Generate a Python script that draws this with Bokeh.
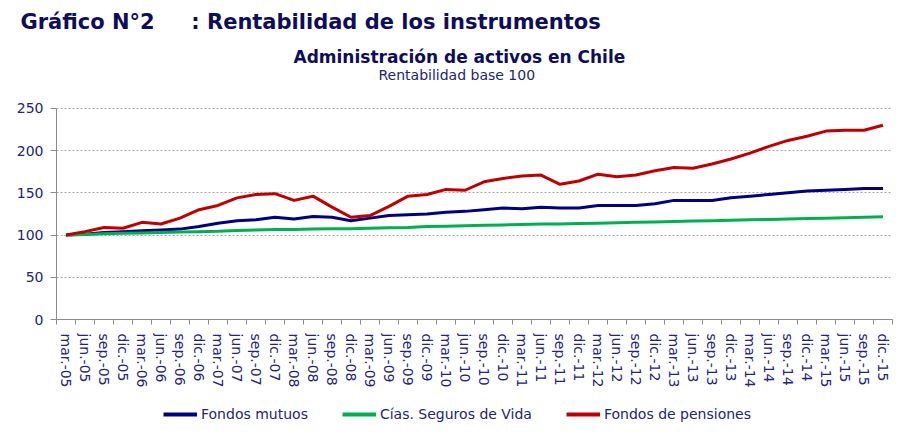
from bokeh.plotting import figure
from bokeh.layouts import column
from bokeh.models import Range1d, FixedTicker, Legend, LegendItem, Title, Label
from bokeh.embed import file_html
from bokeh.resources import INLINE

quarters = ["mar.-05", "jun.-05", "sep.-05", "dic.-05",
            "mar.-06", "jun.-06", "sep.-06", "dic.-06",
            "mar.-07", "jun.-07", "sep.-07", "dic.-07",
            "mar.-08", "jun.-08", "sep.-08", "dic.-08",
            "mar.-09", "jun.-09", "sep.-09", "dic.-09",
            "mar.-10", "jun.-10", "sep.-10", "dic.-10",
            "mar.-11", "jun.-11", "sep.-11", "dic.-11",
            "mar.-12", "jun.-12", "sep.-12", "dic.-12",
            "mar.-13", "jun.-13", "sep.-13", "dic.-13",
            "mar.-14", "jun.-14", "sep.-14", "dic.-14",
            "mar.-15", "jun.-15", "sep.-15", "dic.-15"]

fondos_mutuos = [100, 101, 103, 104, 105, 106, 107, 110, 114, 117, 118, 121,
                 119, 122, 121, 117, 120, 123, 124, 125, 127, 128, 130, 132,
                 131, 133, 132, 132, 135, 135, 135, 137, 141, 141, 141, 144,
                 146, 148, 150, 152, 153, 154, 155, 155]

cias_seguros_vida = [100, 100.5, 101.5, 102, 102.5, 103, 103.5, 104, 104.5, 105.5, 106, 106.5,
                     106.5, 107, 107.5, 107.5, 108, 108.5, 109, 110, 110.5, 111, 111.5, 112,
                     112.5, 113, 113, 113.5, 114, 114.5, 115, 115.5, 116, 116.5, 117, 117.5,
                     118, 118.5, 119, 119.5, 120, 120.5, 121, 121.5]

fondos_pensiones = [100, 104, 109, 108, 115, 113, 120, 130, 135, 144, 148, 149,
                    141, 146, 133, 121, 123, 134, 146, 148, 154, 153, 163, 167,
                    170, 171, 160, 164, 172, 169, 171, 176, 180, 179, 184, 190,
                    197, 205, 212, 217, 223, 224, 224, 230]

y_ticks = [0, 50, 100, 150, 200, 250]

series_names = ["Fondos mutuos", "Cías. Seguros de Vida", "Fondos de pensiones"]
series_colors = ["#000080", "#00B050", "#C00000"]

main_title = "Gráfico N°2\u00a0\u00a0\u00a0\u00a0\u00a0: Rentabilidad de los instrumentos"
chart_title = "Administración de activos en Chile"
chart_subtitle = "Rentabilidad base 100"

TEXT = "#23237A"
TITLE = "#0D0D5C"
AXIS = "#8C8C8C"
FONT = "DejaVu Sans"

# layout (pixels)
PLOT_H = 390
BORDER_TOP = 40
BORDER_BOTTOM = 69
FRAME_BOTTOM = PLOT_H - BORDER_BOTTOM      # y pixel of value 0
PX_250 = 108.3                             # y pixel of value 250
y_top = 250 * (FRAME_BOTTOM - BORDER_TOP) / (FRAME_BOTTOM - PX_250)

n = len(quarters)
xs = list(range(n))

p = figure(width=900, height=PLOT_H, output_backend="svg", toolbar_location=None,
           x_range=Range1d(-0.5, n - 0.5), y_range=Range1d(0, y_top),
           min_border_left=56, min_border_right=8, min_border_top=BORDER_TOP,
           min_border_bottom=BORDER_BOTTOM)
p.outline_line_color = None
p.background_fill_color = "white"
p.border_fill_color = "white"

# grid
p.xgrid.visible = False
p.ygrid.ticker = FixedTicker(ticks=y_ticks)
p.ygrid.grid_line_color = "#A6A6A6"
p.ygrid.grid_line_dash = "2 2"
p.ygrid.grid_line_width = 1

# y axis
p.yaxis.ticker = FixedTicker(ticks=y_ticks)
p.yaxis.bounds = (0, 250)
p.yaxis.axis_line_color = AXIS
p.yaxis.major_tick_line_color = AXIS
p.yaxis.major_tick_out = 6
p.yaxis.major_tick_in = 0
p.yaxis.minor_tick_line_color = None
p.yaxis.major_label_standoff = 7
p.yaxis.major_label_text_font = FONT
p.yaxis.major_label_text_font_size = "14px"
p.yaxis.major_label_text_color = TEXT

# x axis: labels at category centres, ticks at category boundaries
p.xaxis.ticker = FixedTicker(ticks=xs, minor_ticks=[i - 0.5 for i in range(n + 1)])
p.xaxis.major_label_overrides = {i: q for i, q in enumerate(quarters)}
p.xaxis.major_label_orientation = "vertical"
p.xaxis.axis_line_color = AXIS
p.xaxis.major_tick_line_color = None
p.xaxis.major_tick_out = 0
p.xaxis.major_tick_in = 0
p.xaxis.minor_tick_line_color = AXIS
p.xaxis.minor_tick_out = 5
p.xaxis.minor_tick_in = 0
p.xaxis.major_label_standoff = 9
p.xaxis.major_label_text_font = FONT
p.xaxis.major_label_text_font_size = "14px"
p.xaxis.major_label_text_color = TEXT

for vals, col in zip([fondos_mutuos, cias_seguros_vida, fondos_pensiones], series_colors):
    p.line(xs, vals, line_color=col, line_width=3, line_join="round")

# main title above the plot
p.add_layout(Title(text=main_title, text_font=FONT, text_font_style="bold",
                   text_font_size="21px", text_color=TITLE, align="left",
                   offset=-36, standoff=13), "above")

# chart titles inside the (enlarged) frame, screen px from frame bottom-left
p.add_layout(Label(x=237, y=FRAME_BOTTOM - 58, x_units="screen", y_units="screen",
                   text=chart_title, text_font=FONT, text_font_style="bold",
                   text_font_size="17px", text_color=TITLE,
                   text_baseline="middle", text_align="left"))
p.add_layout(Label(x=322, y=FRAME_BOTTOM - 76, x_units="screen", y_units="screen",
                   text=chart_subtitle, text_font=FONT,
                   text_font_size="14px", text_color=TEXT,
                   text_baseline="middle", text_align="left"))

# legend strip below the chart (swatch renderers sit outside the visible range)
lf = figure(width=900, height=436 - PLOT_H, output_backend="svg", toolbar_location=None,
            x_range=Range1d(0, 1), y_range=Range1d(0, 1),
            x_axis_type=None, y_axis_type=None,
            min_border_left=0, min_border_right=0, min_border_top=0, min_border_bottom=0)
lf.outline_line_color = None
lf.xgrid.visible = False
lf.ygrid.visible = False
swatches = [lf.line(x=[-5, -4], y=[-5, -5], line_color=c, line_width=4) for c in series_colors]
legend = Legend(items=[LegendItem(label=nm, renderers=[r]) for nm, r in zip(series_names, swatches)],
                orientation="horizontal", location=(107, 14),
                glyph_width=34, glyph_height=14, label_standoff=4, spacing=34,
                label_text_font=FONT, label_text_font_size="14px",
                label_text_color=TEXT, background_fill_alpha=0,
                border_line_alpha=0, padding=0, margin=0)
lf.add_layout(legend)

open("out.html", "w").write(file_html(column(p, lf, spacing=0), INLINE))
